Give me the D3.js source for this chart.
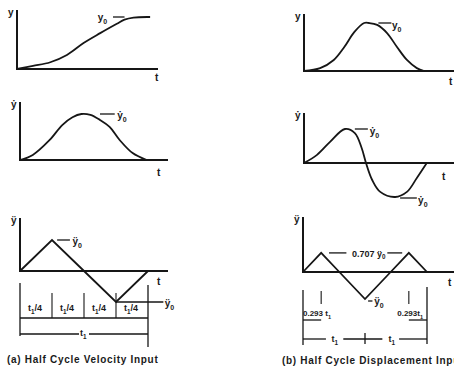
<!DOCTYPE html>
<html>
<head>
<meta charset="utf-8">
<script src="https://cdn.jsdelivr.net/npm/d3@7"></script>
<style>
  body { margin: 0; background: #fff; }
  text { font-family: "Liberation Sans", Arial, sans-serif; font-weight: bold; fill: #1a1a1a; }
</style>
</head>
<body>
<script>
    const W = 454, H = 375;

    // curves, t in units of t1, values in units of the peak value
    const leftDispT  = [0, .125, .26, .39, .52, .65, .78, .84, .91, 1.04];
    const leftDispV  = [0, .06, .13, .27, .5, .69, .87, .95, .99, 1];
    const leftVelT   = [0, .10, .23, .33, .41, .48, .55, .625, .70, .78, .88, .99];
    const leftVelV   = [0, .11, .43, .76, .93, 1, .98, .87, .72, .43, .15, 0];
    const leftAccT   = [0, .25, .5, .75, 1];
    const leftAccV   = [0, 1, 0, -1, 0];

    const rightDispT = [0, .26, .48, .65, .81, .97, 1.05, 1.18, 1.34, 1.5, 1.66, 1.82, 1.94];
    const rightDispV = [0, .06, .23, .5, .81, 1, 1, .96, .79, .5, .23, .06, 0];
    const rightVelT  = [0, .21, .42, .66, .82, .93, 1.0, 1.1, 1.23, 1.47, 1.66, 1.82, 1.98];
    const rightVelV  = [0, .24, .62, 1, .88, .44, 0, -.5, -.85, -1, -.85, -.44, 0];
    const rightAccT  = [0, .293, .586, 1, 1.414, 1.707, 2];
    const rightAccV  = [0, .707, 0, -1, 0, .707, 0];

    const leftDimTicks  = [0, .25, .5, .75, 1];
    const leftDimLabel  = "/4";
    const rightDimTicks = [0, .293, 1.707, 2];
    const rightDimLabel = ["0.293 t", "0.293t"];

    const svg = d3.select('body').append('svg').attr('width', W).attr('height', H);

    const ink = '#161616';

    // layout of the six little plots
    const panels = [
      {x0: 17,  u: 128, xEnd: 158, y0: 69,  v: 52, top: 10,  t: leftDispT,  d: leftDispV,  sym: 'y'},
      {x0: 20,  u: 128, xEnd: 168, y0: 160, v: 46, top: 102, t: leftVelT,   d: leftVelV,   sym: 'ẏ'},
      {x0: 20,  u: 128, xEnd: 168, y0: 271, v: 31, top: 218, t: leftAccT,   d: leftAccV,   sym: 'ÿ'},
      {x0: 304, u: 62,  xEnd: 454, y0: 71,  v: 48, top: 14,  t: rightDispT, d: rightDispV, sym: 'y'},
      {x0: 304, u: 62,  xEnd: 454, y0: 163, v: 34, top: 113, t: rightVelT,  d: rightVelV,  sym: 'ẏ'},
      {x0: 303, u: 62,  xEnd: 454, y0: 272, v: 27, top: 217, t: rightAccT,  d: rightAccV,  sym: 'ÿ'}
    ];

    function sub(sel, x, y, main, s, size) {
      const tx = sel.append('text').attr('x', x).attr('y', y).style('font-size', (size || 10) + 'px');
      tx.append('tspan').text(main);
      if (s) tx.append('tspan').attr('dy', 2.5).style('font-size', ((size || 10) * 0.7) + 'px').text(s);
      return tx;
    }

    panels.forEach(p => {
      p.x = d3.scaleLinear().domain([0, 1]).range([p.x0, p.x0 + p.u]);
      p.y = d3.scaleLinear().domain([0, 1]).range([p.y0, p.y0 - p.v]);
      const g = svg.append('g');
      // axes
      g.append('line').attr('x1', p.x0).attr('x2', p.x0).attr('y1', p.top).attr('y2', p.y0 + 1)
        .attr('stroke', ink).attr('stroke-width', 2);
      g.append('line').attr('x1', p.x0).attr('x2', p.xEnd).attr('y1', p.y0).attr('y2', p.y0)
        .attr('stroke', ink).attr('stroke-width', 2);
      // curve
      const line = d3.line().x(i => p.x(p.t[i])).y(i => p.y(p.d[i]))
        .curve(p.d === leftAccV || p.d === rightAccV ? d3.curveLinear : d3.curveCatmullRom.alpha(0.5));
      g.append('path').attr('d', line(d3.range(p.t.length)))
        .attr('fill', 'none').attr('stroke', ink).attr('stroke-width', 1.8);
      // axis names
      sub(g, p.x0 - 9, p.top + 6, p.sym, null, 10);
      p.g = g;
    });

    function dash(g, x1, x2, y) {
      g.append('line').attr('x1', x1).attr('x2', x2).attr('y1', y).attr('y2', y)
        .attr('stroke', ink).attr('stroke-width', 1.3);
    }
    function tee(g, x, y) {
      g.append('text').attr('x', x).attr('y', y).style('font-size', '10px').text('t');
    }

    // t labels on each time axis
    const [pa, pb, pc, pd, pe, pf] = panels;
    tee(pa.g, 155, 81); tee(pb.g, 157, 176); tee(pc.g, 157, 285);
    tee(pd.g, 449, 85); tee(pe.g, 442, 180); tee(pf.g, 448, 286);

    // peak labels
    dash(pa.g, pa.x(.75), pa.x(.84), pa.y(1));
    sub(pa.g, pa.x(.63), pa.y(1) + 4, 'y', '0');
    dash(pb.g, pb.x(.625), pb.x(.74), pb.y(1));
    sub(pb.g, pb.x(.76), pb.y(1) + 5, 'ẏ', '0');
    dash(pc.g, pc.x(.29), pc.x(.39), pc.y(1));
    sub(pc.g, pc.x(.41), pc.y(1) + 5, 'ÿ', '0');
    dash(pc.g, pc.x(.75), pc.x(1.12), pc.y(-1));
    sub(pc.g, pc.x(1.13), pc.y(-1) + 5, 'ÿ', '0');

    dash(pd.g, pd.x(1.2), pd.x(1.41), pd.y(1));
    sub(pd.g, pd.x(1.42), pd.y(1) + 6, 'y', '0');
    dash(pe.g, pe.x(.82), pe.x(1.03), pe.y(1));
    sub(pe.g, pe.x(1.06), pe.y(1) + 6, 'ẏ', '0');
    dash(pe.g, pe.x(1.55), pe.x(1.82), pe.y(-1) + 1);
    sub(pe.g, pe.x(1.84), pe.y(-1) + 7, 'ẏ', '0');
    dash(pf.g, pf.x(.42), pf.x(.7), pf.y(.707));
    sub(pf.g, pf.x(.79), pf.y(.707) + 4, '0.707 ÿ', '0', 9);
    dash(pf.g, pf.x(1.36), pf.x(1.6), pf.y(.707));
    dash(pf.g, pf.x(1.05), pf.x(1.12), pf.y(-1) + 2);
    sub(pf.g, pf.x(1.15), pf.y(-1) + 6, 'ÿ', '0');

    // dimension lines, left
    const dl = svg.append('g');
    const xl = pc.x;
    dl.append('line').attr('x1', xl(0)).attr('x2', xl(0)).attr('y1', 283).attr('y2', 336).attr('stroke', ink).attr('stroke-width', 1.3);
    dl.append('line').attr('x1', xl(1)).attr('x2', xl(1)).attr('y1', 285).attr('y2', 347).attr('stroke', ink).attr('stroke-width', 1.3);
    leftDimTicks.slice(1, -1).forEach(t => {
      dl.append('line').attr('x1', xl(t)).attr('x2', xl(t)).attr('y1', 293).attr('y2', 318).attr('stroke', ink).attr('stroke-width', 1.1);
    });
    dash(dl, xl(0), xl(1), 318);
    dash(dl, xl(0), xl(1), 334);
    leftDimTicks.slice(0, -1).forEach((t, i) => {
      const tx = sub(dl, (xl(t) + xl(leftDimTicks[i + 1])) / 2 - 8, 311, 't', '1', 9);
      tx.append('tspan').attr('dy', -2.5).style('font-size', '9px').text(leftDimLabel);
    });
    dl.append('rect').attr('x', xl(.5) - 5).attr('y', 329).attr('width', 10).attr('height', 10).attr('fill', '#fff');
    sub(dl, xl(.5) - 4, 336, 't', '1', 9);

    // dimension lines, right
    const dr = svg.append('g');
    const xr = pf.x;
    const vline = (x, y1, y2, w) => dr.append('line').attr('x1', x).attr('x2', x).attr('y1', y1).attr('y2', y2).attr('stroke', ink).attr('stroke-width', w || 1.3);
    vline(xr(rightDimTicks[0]), 290, 345);
    vline(xr(rightDimTicks[1]), 291, 304, 1.1);
    vline(xr(rightDimTicks[2]), 291, 304, 1.1);
    vline(xr(rightDimTicks[3]), 287, 344);
    dash(dr, xr(rightDimTicks[0]), xr(rightDimTicks[1]), 320);
    dash(dr, xr(rightDimTicks[2]), xr(rightDimTicks[3]), 320);
    sub(dr, xr(0), 316, rightDimLabel[0], '1', 8);
    sub(dr, xr(1.52), 316, rightDimLabel[1], '1', 8);
    dash(dr, xr(0), xr(.37), 339);
    dash(dr, xr(.65), xr(1.28), 339);
    dash(dr, xr(1.55), xr(2), 339);
    vline(xr(1), 333, 344);
    sub(dr, xr(.46), 342, 't', '1', 9);
    sub(dr, xr(1.38), 342, 't', '1', 9);

    // captions
    svg.append('text').attr('x', 7).attr('y', 363).style('font-size', '10px').style('letter-spacing', '0.7px')
      .text('(a) Half Cycle Velocity Input');
    svg.append('text').attr('x', 282).attr('y', 364).style('font-size', '10px').style('letter-spacing', '0.7px')
      .text('(b) Half Cycle Displacement Input');
</script>
</body>
</html>
